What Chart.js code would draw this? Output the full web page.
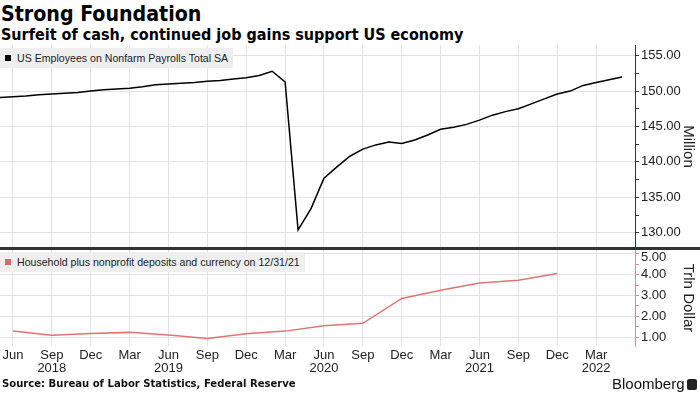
<!DOCTYPE html>
<html>
<head>
<meta charset="utf-8">
<script src="https://cdn.jsdelivr.net/npm/chart.js@4.4.1/dist/chart.umd.min.js"></script>
<style>
  html, body { margin:0; padding:0; background:#fff; }
  body { width:700px; height:394px; position:relative; overflow:hidden; font-family:"Liberation Sans", Arial, sans-serif; }
  .abs { position:absolute; white-space:nowrap; }
  #title { left:1px; top:0px; font-weight:bold; font-size:21.2px; line-height:28px; font-family:"DejaVu Sans Condensed","DejaVu Sans",sans-serif; color:#000; }
  #subtitle { left:1px; top:25px; font-weight:bold; font-size:16px; line-height:20px; font-family:"DejaVu Sans Condensed","DejaVu Sans",sans-serif; color:#000; }
  #wrapA { left:0; top:44px; width:700px; height:204px; }
  #wrapB { left:0; top:250px; width:700px; height:130px; }
  #sep { left:0; top:247px; width:700px; height:3px; background:#333; }
  .legend { background:#efefef; font-size:10.6px; color:#222; height:20px; line-height:20px; padding:0 5px 0 17px; }
  .legend .sw { position:absolute; left:5px; top:7px; width:6px; height:6px; }
  #legA { left:0; top:48px; }
  #legB { left:0; top:252px; }
  #source { left:2px; top:377px; font-weight:bold; font-size:11.2px; line-height:14px; font-family:"DejaVu Sans Condensed","DejaVu Sans",sans-serif; color:#111; }
  #brand { left:612px; top:375px; font-size:15px; line-height:18px; color:#111; font-family:"Liberation Sans", Arial, sans-serif; }
  #icon { left:687px; top:379px; width:10px; height:11px; background:#222; border-radius:2px; }
</style>
</head>
<body>
<div id="title" class="abs">Strong Foundation</div>
<div id="subtitle" class="abs">Surfeit of cash, continued job gains support US economy</div>
<div id="wrapA" class="abs"><canvas id="chartA" width="700" height="204"></canvas></div>
<div id="wrapB" class="abs"><canvas id="chartB" width="700" height="130"></canvas></div>
<div id="sep" class="abs"></div>
<div id="legA" class="abs legend"><span class="sw" style="background:#000"></span>US Employees on Nonfarm Payrolls Total SA</div>
<div id="legB" class="abs legend"><span class="sw" style="background:#e06666"></span>Household plus nonprofit deposits and currency on 12/31/21</div>
<div id="source" class="abs">Source: Bureau of Labor Statistics, Federal Reserve</div>
<div id="brand" class="abs">Bloomberg</div>
<div id="icon" class="abs"></div>
<script>
// ---- data ----
const payrollMonths = [
  '2018-05','2018-06','2018-07','2018-08','2018-09','2018-10','2018-11','2018-12',
  '2019-01','2019-02','2019-03','2019-04','2019-05','2019-06','2019-07','2019-08','2019-09','2019-10','2019-11','2019-12',
  '2020-01','2020-02','2020-03','2020-04','2020-05','2020-06','2020-07','2020-08','2020-09','2020-10','2020-11','2020-12',
  '2021-01','2021-02','2021-03','2021-04','2021-05','2021-06','2021-07','2021-08','2021-09','2021-10','2021-11','2021-12',
  '2022-01','2022-02','2022-03','2022-04','2022-05'
];
const payrollValues = [
  149.1,149.2,149.3,149.5,149.6,149.7,149.8,150.0,
  150.2,150.3,150.4,150.6,150.9,151.0,151.1,151.2,151.4,151.5,151.7,151.9,
  152.2,152.8,151.3,130.4,133.4,137.7,139.3,140.8,141.8,142.4,142.8,142.6,
  143.1,143.8,144.6,144.9,145.3,145.9,146.6,147.1,147.5,148.2,148.9,149.6,
  150.0,150.8,151.2,151.6,152.0
];
const depositQuarters = [
  '2018-06','2018-09','2018-12','2019-03','2019-06','2019-09','2019-12',
  '2020-03','2020-06','2020-09','2020-12','2021-03','2021-06','2021-09','2021-12'
];
const depositValues = [1.30,1.10,1.19,1.24,1.12,0.95,1.17,1.30,1.56,1.67,2.86,3.25,3.60,3.73,4.05];

const xTickMonths = ['2018-06','2018-09','2018-12','2019-03','2019-06','2019-09','2019-12','2020-03',
  '2020-06','2020-09','2020-12','2021-03','2021-06','2021-09','2021-12','2022-03'];
const xTickLabels = ['Jun','Sep','Dec','Mar','Jun','Sep','Dec','Mar','Jun','Sep','Dec','Mar','Jun','Sep','Dec','Mar'];
const yearTickMonths = ['2018-09','2019-06','2020-06','2021-06','2022-03'];
const yearTickLabels = ['2018','2019','2020','2021','2022'];
const payrollTicks = [130,135,140,145,150,155];
const depositTicks = [1,2,3,4,5];

// ---- helpers ----
function monthIndex(s){ const p = s.split('-').map(Number); return (p[0]-2018)*12 + (p[1]-1); }
function withMinor(majors){
  const out = [];
  majors.forEach((v,i)=>{ out.push({value:v}); if(i<majors.length-1) out.push({value:(v+majors[i+1])/2}); });
  return out;
}
const GRID = '#e3e3e3';
const PINK = '#e48a8a';
const TXT = '#222';
const FAMILY = '"Liberation Sans", Arial, sans-serif';

function xScale(showLabels){
  return {
    type:'linear', min:4, max:53,
    afterBuildTicks: s => { s.ticks = xTickMonths.map(m => ({value: monthIndex(m)})); },
    afterFit: s => { s.height = showLabels ? 34 : 0; s.paddingLeft = 0; s.paddingRight = 0; },
    grid:{color:GRID, lineWidth:1, drawTicks:false},
    border:{display:false},
    ticks:{
      display:showLabels, autoSkip:false, maxRotation:0, color:TXT,
      font:{family:FAMILY, size:13, lineHeight:1.0}, padding:3,
      callback: (value) => {
        const k = xTickMonths.findIndex(m => monthIndex(m) === value);
        if (k < 0) return '';
        const yi = yearTickMonths.indexOf(xTickMonths[k]);
        return yi >= 0 ? [xTickLabels[k], yearTickLabels[yi]] : xTickLabels[k];
      }
    }
  };
}
function yScale(min, max, majors, axisColor, title, pushTop){
  return {
    position:'right', min:min, max:max,
    afterBuildTicks: s => { s.ticks = withMinor(majors); },
    afterFit: s => { s.width = 65; s.paddingTop = 0; s.paddingBottom = 0; },
    grid:{
      color: ctx => (ctx.tick && majors.includes(ctx.tick.value)) ? GRID : 'rgba(0,0,0,0)',
      tickColor: axisColor, tickLength:4, drawTicks:true
    },
    border:{display:true, color:axisColor, width:1},
    ticks:{
      autoSkip:false, color:TXT, font:{family:FAMILY, size:13, lineHeight:0.62}, padding:2,
      callback: v => {
        if (!majors.includes(v)) return '';
        const t = v.toFixed(2);
        return (pushTop && v === majors[majors.length-1]) ? ['', t] : t;
      }
    },
    title:{display:true, text:title, color:TXT, font:{family:FAMILY, size:15}, padding:{top:3,bottom:0}}
  };
}
const common = {
  responsive:false, animation:false, devicePixelRatio:1,
  plugins:{legend:{display:false}, tooltip:{enabled:false}},
  elements:{point:{radius:0}, line:{tension:0}}
};

new Chart(document.getElementById('chartA'), {
  type:'line',
  data:{datasets:[{
    data: payrollMonths.map((m,i)=>({x:monthIndex(m), y:payrollValues[i]})),
    borderColor:'#000', borderWidth:1.5, fill:false
  }]},
  options: Object.assign({}, common, {
    layout:{padding:{top:1,bottom:0,left:0,right:0}},
    scales:{ x:xScale(false), y:yScale(127.84,156.51,payrollTicks,'#333','Million',false) }
  })
});

new Chart(document.getElementById('chartB'), {
  type:'line',
  data:{datasets:[{
    data: depositQuarters.map((m,i)=>({x:monthIndex(m), y:depositValues[i]})),
    borderColor:'#e07474', borderWidth:1.5, fill:false
  }]},
  options: Object.assign({}, common, {
    layout:{padding:{top:0,bottom:0,left:0,right:0}},
    scales:{ x:xScale(true), y:yScale(0.59,5.17,depositTicks,PINK,'Trln Dollar',true) }
  })
});
</script>
</body>
</html>
